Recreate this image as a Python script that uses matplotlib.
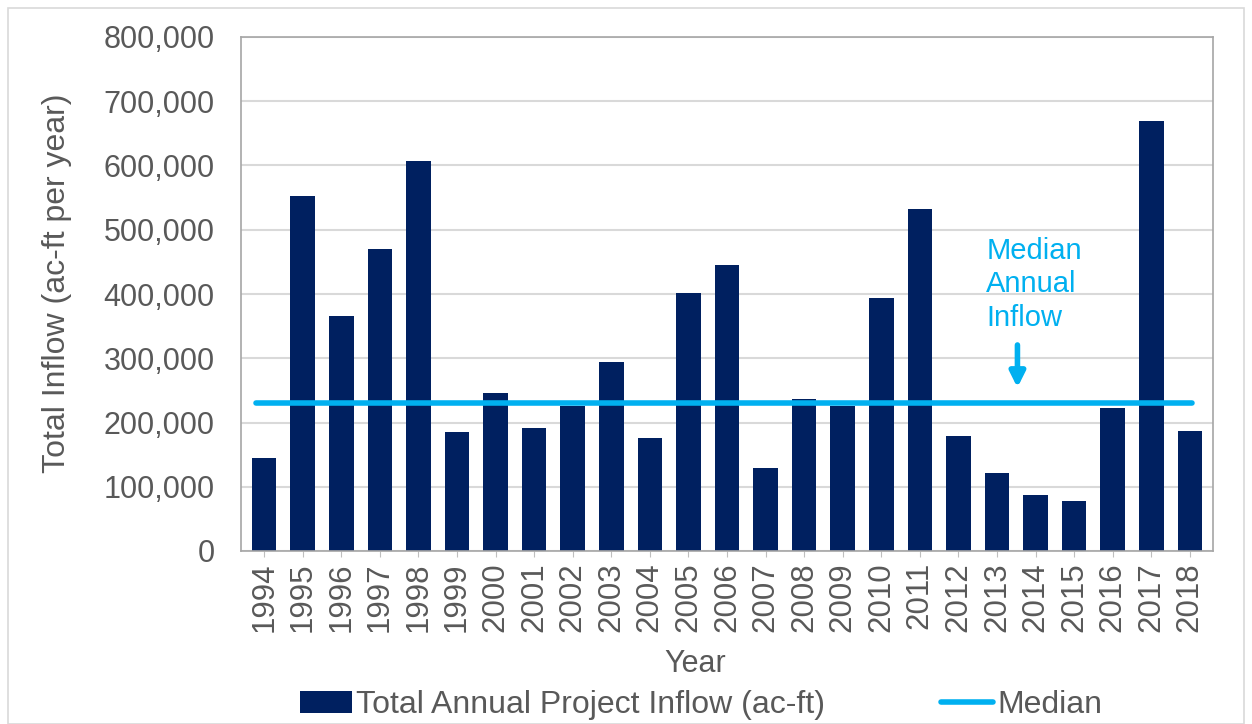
import matplotlib.pyplot as plt
from matplotlib.ticker import FuncFormatter

plt.rcParams['font.family'] = ['Liberation Sans', 'DejaVu Sans']

# Données
years = ['1994', '1995', '1996', '1997', '1998', '1999', '2000', '2001', '2002',
         '2003', '2004', '2005', '2006', '2007', '2008', '2009', '2010', '2011',
         '2012', '2013', '2014', '2015', '2016', '2017', '2018']
inflow = [145000, 552000, 366000, 470000, 607000, 185000, 246000, 191000, 226000,
          294000, 176000, 401000, 445000, 129000, 236000, 226000, 394000, 532000,
          179000, 121000, 87000, 78000, 222000, 669000, 187000]
median_value = 230000

bar_color = '#002060'
median_color = '#00B0F0'
text_color = '#595959'

fig = plt.figure(figsize=(12.52, 7.24), dpi=100)
ax = fig.add_axes([241 / 1252, 1 - 551 / 724, (1213 - 241) / 1252, (551 - 37) / 724])

x = list(range(len(years)))
bars = ax.bar(x, inflow, width=0.64, color=bar_color, zorder=2,
              label='Total Annual Project Inflow (ac-ft)')
line, = ax.plot([-0.2, len(years) - 0.95], [median_value, median_value], color=median_color,
                linewidth=4, solid_capstyle='round', zorder=3, label='Median')

ax.set_xlim(-0.6, len(years) - 0.4)
ax.set_ylim(0, 800000)
ax.set_yticks(range(0, 800001, 100000))
ax.yaxis.set_major_formatter(FuncFormatter(lambda v, p: f'{int(v):,}'))
ax.set_xticks(x)
ax.set_xticklabels(years, rotation=90)
ax.grid(axis='y', color='#D9D9D9', linewidth=1.5, zorder=0)
ax.tick_params(axis='y', length=0, labelsize=22, labelcolor=text_color, pad=19)
ax.tick_params(axis='x', length=4, color='#BFBFBF', labelsize=22.5, labelcolor=text_color, pad=4)
for s in ax.spines.values():
    s.set_color('#A6A6A6')
    s.set_linewidth(1.2)

ax.set_xlabel('Year', fontsize=22, color=text_color, labelpad=12, x=0.467)
ax.set_ylabel('Total Inflow (ac-ft per year)', fontsize=23, color=text_color,
              labelpad=23, y=0.521)

# Annotation de la médiane
ax.text(18.72, 489000, 'Median\nAnnual\nInflow', color=median_color, fontsize=21,
        ha='left', va='top', linespacing=1.25)
ax.annotate('', xy=(19.53, 250000), xytext=(19.53, 325000),
            arrowprops=dict(arrowstyle='-|>,head_width=0.45,head_length=0.9',
                            color=median_color, lw=4))

fig.legend([bars, line], ['Total Annual Project Inflow (ac-ft)', 'Median'],
           loc='center', bbox_to_anchor=(701 / 1252, 1 - 705 / 724), ncol=2,
           frameon=False, fontsize=23, labelcolor=text_color, handlelength=1.63,
           handletextpad=0.15, columnspacing=3.6)

# Cadre extérieur
fig.patches.append(plt.Rectangle((8 / 1252, 0), 1236 / 1252, 1 - 8 / 724,
                                 transform=fig.transFigure, fill=False,
                                 edgecolor='#D9D9D9', linewidth=1.2))

fig.savefig('out.png', dpi=100)
